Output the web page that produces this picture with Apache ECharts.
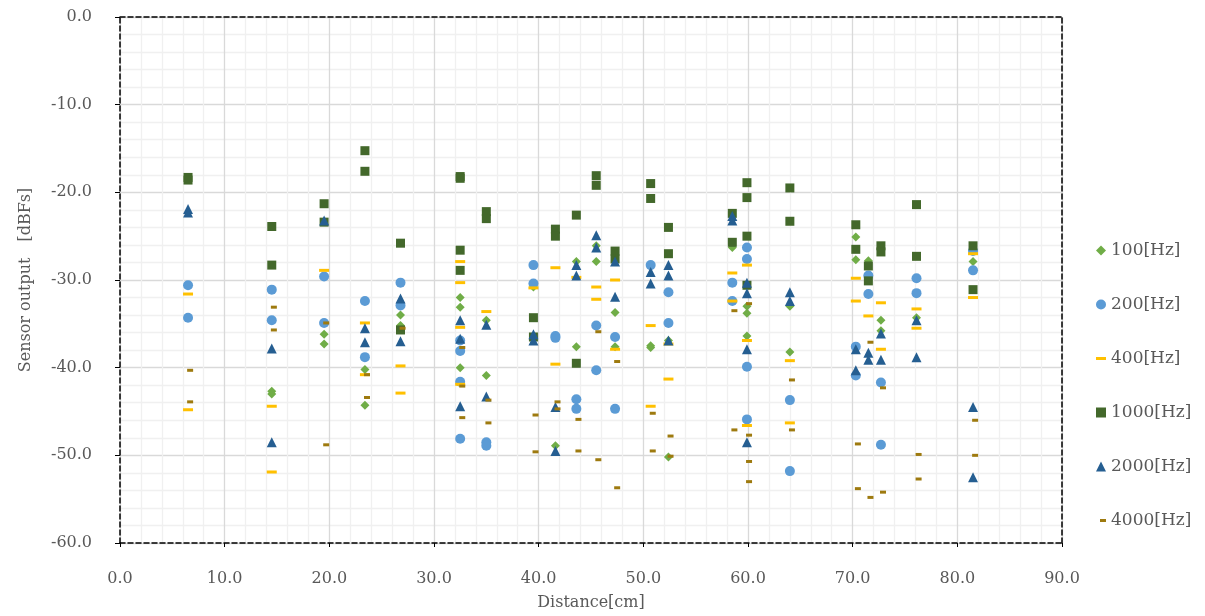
<!DOCTYPE html>
<html><head><meta charset="utf-8">
<script src="https://cdn.jsdelivr.net/npm/echarts@6/dist/echarts.min.js"></script>
<style>html,body{margin:0;padding:0;background:#fff}#c{width:1205px;height:616px}</style>
</head><body><div id="c"></div>
<script>
var seriesNames = ['100[Hz]','200[Hz]','400[Hz]','1000[Hz]','2000[Hz]','4000[Hz]'];
var xTicks = [0,10,20,30,40,50,60,70,80,90];
var yTicks = [0,-10,-20,-30,-40,-50,-60];

var s100 = [
[14.5,-42.7],[14.5,-43.0],[19.5,-36.2],[19.5,-37.3],[23.4,-40.2],[23.4,-44.3],
[26.8,-34.0],[26.8,-35.2],[32.5,-32.0],[32.5,-33.1],[32.5,-40.0],[35.0,-34.6],[35.0,-40.9],
[39.5,-30.8],[39.5,-36.5],[41.6,-48.9],[43.6,-27.9],[43.6,-37.6],[45.5,-26.1],[45.5,-27.9],
[47.3,-33.7],[47.3,-37.6],[50.7,-37.5],[50.7,-37.7],[52.4,-36.9],[52.4,-50.2],[58.5,-26.3],
[59.9,-33.0],[59.9,-33.8],[59.9,-36.4],[64.0,-33.0],[64.0,-38.2],[70.3,-25.1],[70.3,-27.7],
[71.5,-27.8],[72.7,-34.6],[72.7,-35.8],[76.1,-34.3],[81.5,-27.9]
];
var s200 = [
[6.5,-30.6],[6.5,-34.3],[14.5,-31.1],[14.5,-34.6],[19.5,-29.6],[19.5,-34.9],[23.4,-32.4],[23.4,-38.8],
[26.8,-30.3],[26.8,-32.9],[32.5,-36.9],[32.5,-38.1],[32.5,-41.6],[32.5,-48.1],[35.0,-48.5],[35.0,-48.9],
[39.5,-28.3],[39.5,-30.4],[41.6,-36.4],[41.6,-36.6],[43.6,-43.6],[43.6,-44.7],[45.5,-35.2],[45.5,-40.3],
[47.3,-36.5],[47.3,-44.7],[50.7,-28.3],[52.4,-31.4],[52.4,-34.9],[58.5,-30.3],[58.5,-32.4],
[59.9,-26.3],[59.9,-27.6],[59.9,-39.9],[59.9,-45.9],[64.0,-43.7],[64.0,-51.8],[70.3,-37.6],[70.3,-40.9],
[71.5,-29.5],[71.5,-31.6],[72.7,-41.7],[72.7,-48.8],[76.1,-29.8],[76.1,-31.5],[81.5,-26.7],[81.5,-28.9]
];
var s400 = [
[6.5,-31.6],[6.5,-44.8],[14.5,-44.4],[14.5,-51.9],[19.5,-28.9],[23.4,-34.9],[23.4,-40.8],
[26.8,-39.8],[26.8,-42.9],[32.5,-27.9],[32.5,-30.3],[32.5,-35.4],[32.5,-41.9],[35.0,-33.6],
[39.5,-30.9],[41.6,-28.6],[41.6,-39.6],[43.6,-29.7],[45.5,-30.8],[45.5,-32.2],[47.3,-30.0],[47.3,-37.9],
[50.7,-35.2],[50.7,-44.4],[52.4,-37.3],[52.4,-41.3],[58.5,-29.2],[58.5,-32.4],[59.9,-28.3],[59.9,-36.9],
[59.9,-46.6],[64.0,-39.2],[64.0,-46.3],[70.3,-29.8],[70.3,-32.4],[71.5,-34.1],[72.7,-32.6],[72.7,-37.9],
[76.1,-33.3],[76.1,-35.5],[81.5,-27.0],[81.5,-32.0]
];
var s1000 = [
[6.5,-18.3],[6.5,-18.6],[14.5,-23.9],[14.5,-28.3],[19.5,-21.3],[19.5,-23.4],[23.4,-15.25],[23.4,-17.6],
[26.8,-25.8],[26.8,-35.7],[32.5,-18.2],[32.5,-18.4],[32.5,-26.6],[32.5,-28.9],[35.0,-22.2],[35.0,-23.0],
[39.5,-34.3],[39.5,-36.5],[41.6,-24.2],[41.6,-25.0],[43.6,-22.6],[43.6,-39.5],[45.5,-18.1],[45.5,-19.2],
[47.3,-26.7],[47.3,-27.6],[50.7,-19.0],[50.7,-20.7],[52.4,-24.0],[52.4,-27.0],[58.5,-22.4],[58.5,-25.7],
[59.9,-18.9],[59.9,-20.6],[59.9,-25.0],[59.9,-30.6],[64.0,-19.5],[64.0,-23.3],[70.3,-23.7],[70.3,-26.5],
[71.5,-28.4],[71.5,-30.1],[72.7,-26.1],[72.7,-26.8],[76.1,-21.4],[76.1,-27.3],[81.5,-26.1],[81.5,-31.1]
];
var s2000 = [
[6.5,-21.9],[6.5,-22.3],[14.5,-37.8],[14.5,-48.5],[19.5,-23.2],[23.4,-35.5],[23.4,-37.1],
[26.8,-32.1],[26.8,-37.0],[32.5,-34.6],[32.5,-36.7],[32.5,-44.4],[35.0,-35.1],[35.0,-43.3],
[39.5,-36.2],[39.5,-36.9],[41.6,-44.5],[41.6,-49.5],[43.6,-28.3],[43.6,-29.5],[45.5,-24.9],[45.5,-26.3],
[47.3,-27.9],[47.3,-31.9],[50.7,-29.1],[50.7,-30.4],[52.4,-28.3],[52.4,-29.5],[52.4,-36.9],
[58.5,-22.7],[58.5,-23.2],[59.9,-30.3],[59.9,-31.5],[59.9,-37.9],[59.9,-48.5],[64.0,-31.4],[64.0,-32.4],
[70.3,-37.9],[70.3,-40.3],[71.5,-38.3],[71.5,-39.1],[72.7,-36.1],[72.7,-39.1],[76.1,-34.6],[76.1,-38.8],
[81.5,-44.5],[81.5,-52.5]
];
var s4000 = [
[6.7,-40.3],[6.7,-43.9],[14.7,-33.1],[14.7,-35.7],[19.7,-34.9],[19.7,-48.8],[23.6,-40.8],[23.6,-43.4],
[27.0,-35.5],[32.7,-37.7],[32.7,-42.1],[32.7,-45.7],[35.2,-43.7],[35.2,-46.3],[39.7,-45.4],[39.7,-49.6],
[41.8,-43.9],[41.8,-44.7],[43.8,-45.9],[43.8,-49.5],[45.7,-35.9],[45.7,-50.5],[47.5,-39.3],[47.5,-53.7],
[50.9,-45.2],[50.9,-49.5],[52.6,-47.8],[52.6,-50.1],[58.7,-33.5],[58.7,-47.1],[60.1,-32.7],[60.1,-47.7],
[60.1,-50.7],[60.1,-53.0],[64.2,-41.4],[64.2,-47.1],[70.5,-48.7],[70.5,-53.8],[71.7,-37.1],[71.7,-54.8],
[72.9,-42.3],[72.9,-54.2],[76.3,-49.9],[76.3,-52.7],[81.7,-46.0],[81.7,-50.0]
];

var FONT = 'DejaVu Serif';
var TXT = '#595959';
var styles = [
  {symbol:'diamond', size:9, color:'#70AD47', icon:'diamond'},
  {symbol:'circle', size:10, color:'#5B9BD5', icon:'circle'},
  {symbol:'rect', size:[10,3], color:'#FFC000', icon:'path://M0,0h10v3h-10z'},
  {symbol:'rect', size:9, color:'#43682B', icon:'rect'},
  {symbol:'triangle', size:10, color:'#255E91', icon:'triangle'},
  {symbol:'rect', size:[6,3], color:'#9E7A0F', icon:'rect'}
];
var datas = [s100,s200,s400,s1000,s2000,s4000];

var series = seriesNames.map(function(n,i){
  return {name:n, type:'scatter', data:datas[i], symbol:styles[i].symbol, symbolSize:styles[i].size,
    itemStyle:{color:styles[i].color, opacity:1}, z:2+i, emphasis:{disabled:true}, animation:false};
});

var fmt = function(v){ return v.toFixed(1); };
var AX = {color:'#000', type:[5,3], width:1.5};
var legendText = {fontFamily:FONT, fontSize:17, color:TXT};
var chart = echarts.init(document.getElementById('c'), null, {renderer:'canvas'});
chart.setOption({
  animation:false,
  backgroundColor:'#ffffff',
  grid:{left:120, right:143, top:17, bottom:73},
  legend:[{
    orient:'vertical', left:1091, top:237, itemGap:37, itemWidth:10, itemHeight:10,
    textStyle:legendText, selectedMode:false,
    data: seriesNames.slice(0,5).map(function(n,i){ return {name:n, icon:styles[i].icon}; })
  },{
    orient:'vertical', left:1095, top:507, itemWidth:6, itemHeight:3,
    textStyle:legendText, selectedMode:false,
    data: [{name:seriesNames[5], icon:styles[5].icon}]
  }],
  xAxis:[{
    type:'value', min:xTicks[0], max:xTicks[xTicks.length-1], interval:10, splitNumber:5,
    name:'Distance[cm]', nameLocation:'middle', nameGap:52,
    nameTextStyle:{fontFamily:FONT, fontSize:16, color:TXT},
    axisLine:{show:true, onZero:false, lineStyle:AX},
    axisTick:{show:true, length:4, lineStyle:{color:'#000'}},
    axisLabel:{formatter:fmt, fontFamily:FONT, fontSize:16, color:TXT, margin:28},
    splitLine:{show:true, lineStyle:{color:'#d9d9d9', width:1.3}},
    minorTick:{show:false, splitNumber:5},
    minorSplitLine:{show:true, lineStyle:{color:'#f0f0f0', width:1.3}}
  },{
    type:'value', position:'top', min:0, max:90, interval:10,
    axisLine:{show:true, onZero:false, lineStyle:AX},
    axisTick:{show:false}, axisLabel:{show:false}, splitLine:{show:false}
  }],
  yAxis:[{
    type:'value', min:yTicks[yTicks.length-1], max:yTicks[0], interval:10,
    name:'Sensor output\u3000[dBFs]', nameLocation:'middle', nameGap:86, nameRotate:90,
    nameTextStyle:{fontFamily:FONT, fontSize:16, color:TXT},
    axisLine:{show:true, onZero:false, lineStyle:AX},
    axisTick:{show:true, length:5, lineStyle:{color:'#000'}},
    axisLabel:{formatter:fmt, fontFamily:FONT, fontSize:16, color:TXT, margin:28},
    splitLine:{show:true, lineStyle:{color:'#d9d9d9', width:1.3}},
    minorTick:{show:false, splitNumber:5},
    minorSplitLine:{show:true, lineStyle:{color:'#f0f0f0', width:1.3}}
  },{
    type:'value', position:'right', min:-60, max:0, interval:10,
    axisLine:{show:true, onZero:false, lineStyle:AX},
    axisTick:{show:false}, axisLabel:{show:false}, splitLine:{show:false}
  }],
  series: series
});
</script>
</body></html>
